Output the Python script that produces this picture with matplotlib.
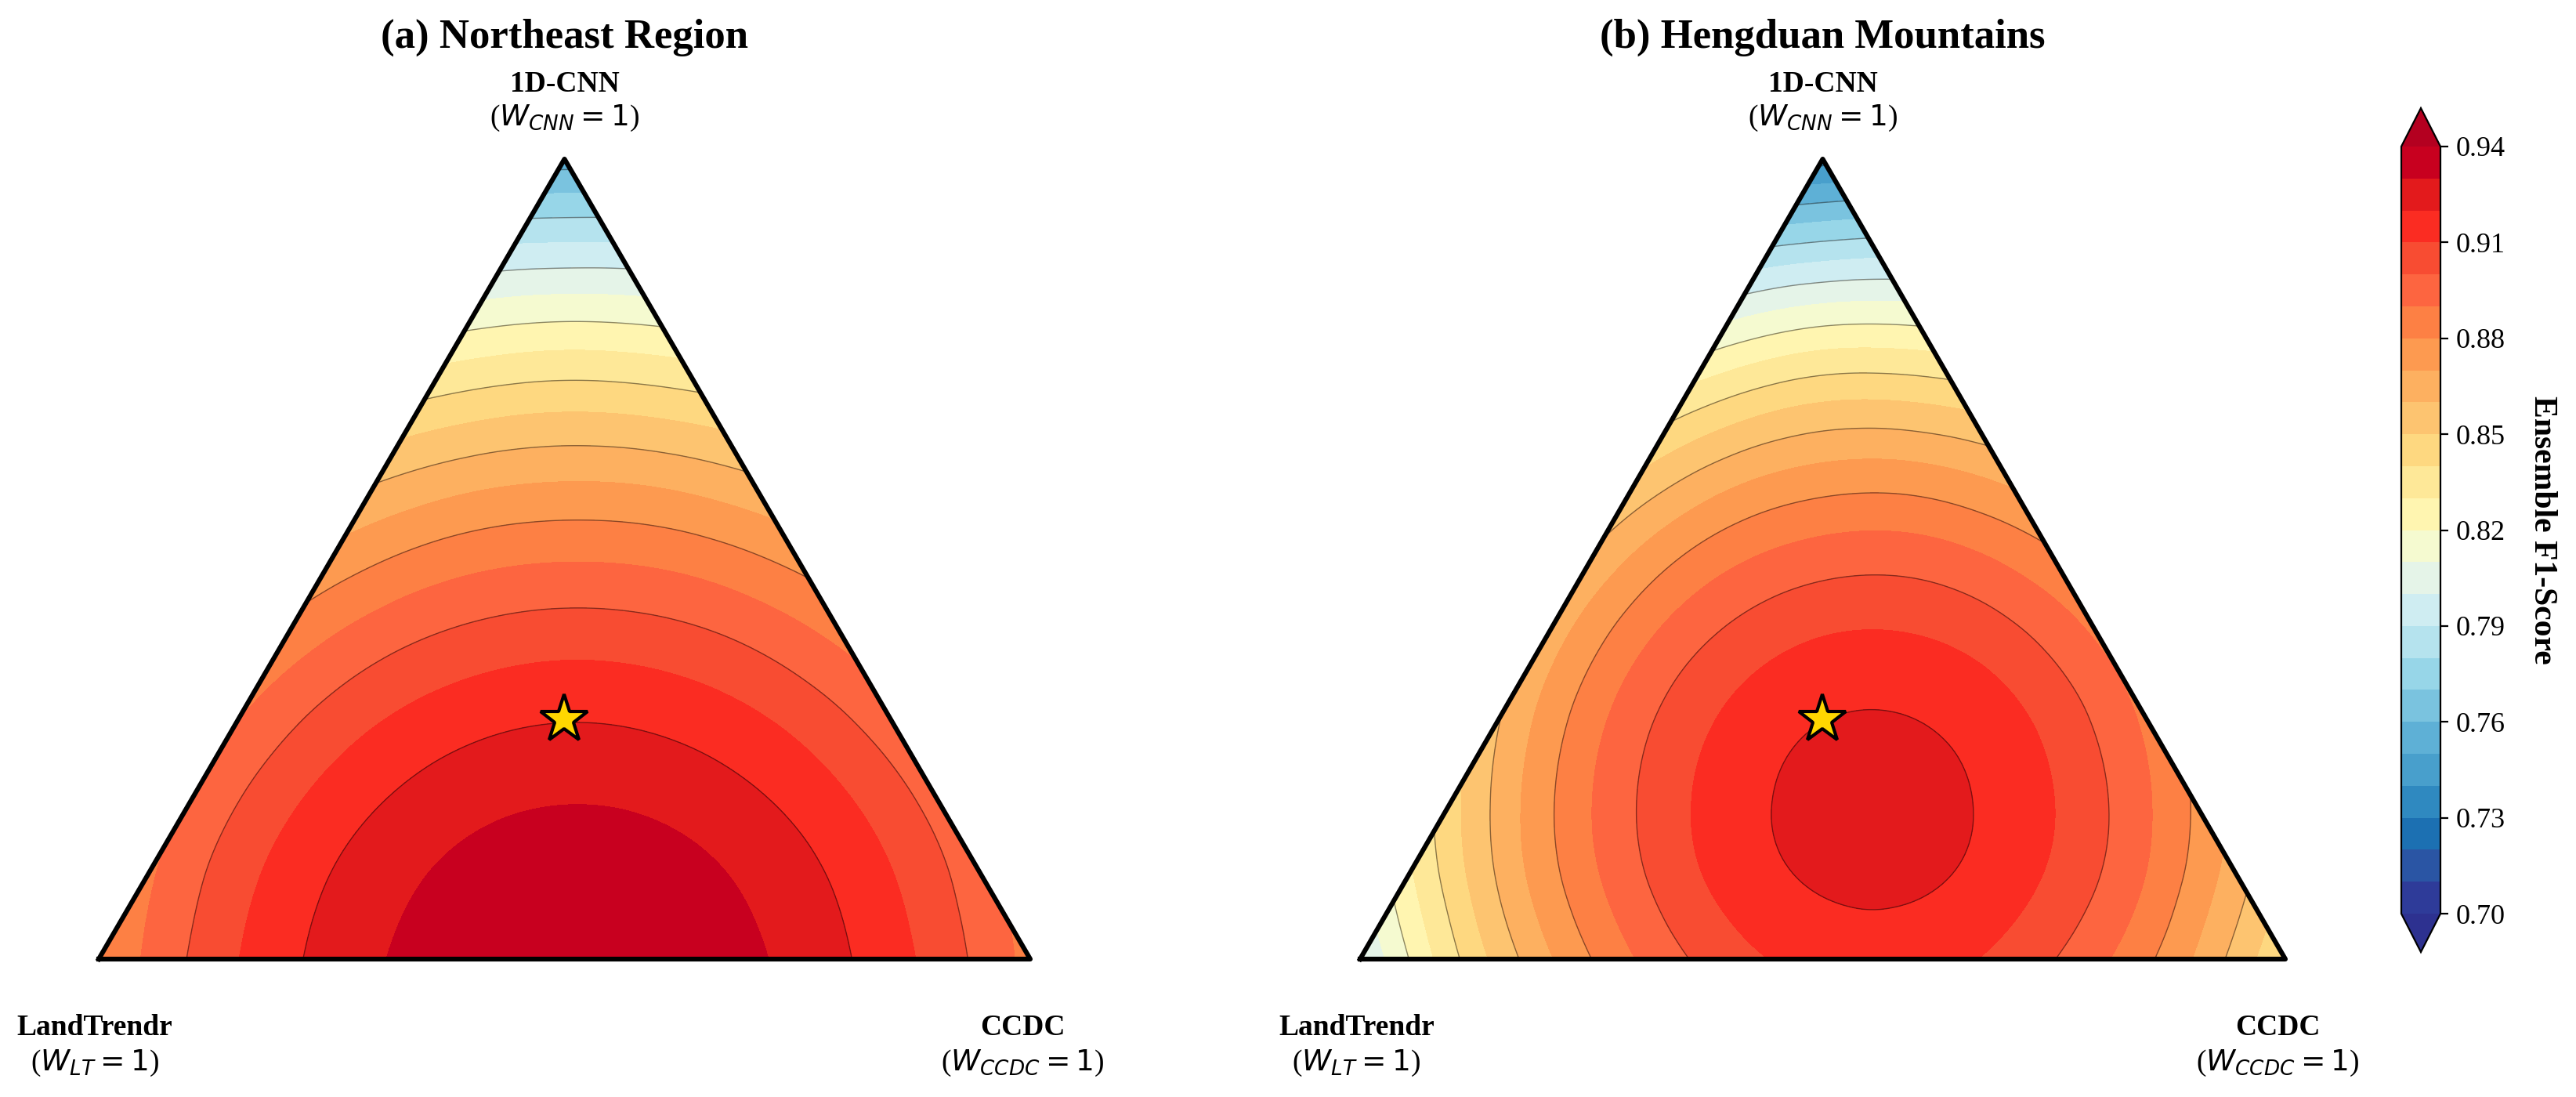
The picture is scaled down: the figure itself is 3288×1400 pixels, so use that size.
import matplotlib
matplotlib.use('Agg')
import matplotlib.pyplot as plt
import matplotlib.tri as mtri
from matplotlib.colors import ListedColormap, Normalize
import numpy as np

plt.rcParams['font.family'] = ['Liberation Serif', 'DejaVu Serif']
plt.rcParams['mathtext.fontset'] = 'dejavusans'

# ternary grid, step 0.1. row i has W_CNN = w_steps[i], W_CCDC = w_steps[0..10-i],
# W_LT = 1 - W_CNN - W_CCDC
w_steps = [0.0, 0.1, 0.2, 0.3, 0.4, 0.5, 0.6, 0.7, 0.8, 0.9, 1.0]

# ensemble F1 at the grid nodes (one row per W_CNN value)
f1_northeast = [
    [0.8803, 0.9011, 0.9174, 0.9292, 0.9365, 0.9394, 0.9378, 0.9317, 0.9211, 0.9061, 0.8866],
    [0.8880, 0.9065, 0.9205, 0.9301, 0.9352, 0.9358, 0.9320, 0.9237, 0.9109, 0.8936],
    [0.8911, 0.9074, 0.9192, 0.9266, 0.9294, 0.9278, 0.9217, 0.9112, 0.8962],
    [0.8898, 0.9039, 0.9135, 0.9186, 0.9192, 0.9153, 0.9070, 0.8942],
    [0.8841, 0.8959, 0.9032, 0.9061, 0.9045, 0.8984, 0.8878],
    [0.8738, 0.8834, 0.8885, 0.8891, 0.8853, 0.8770],
    [0.8591, 0.8664, 0.8693, 0.8677, 0.8616],
    [0.8399, 0.8450, 0.8456, 0.8418],
    [0.8162, 0.8191, 0.8175],
    [0.7881, 0.7887],
    [0.7555],
]
f1_hengduan = [
    [0.7994, 0.8373, 0.8677, 0.8905, 0.9059, 0.9137, 0.9140, 0.9068, 0.8920, 0.8698, 0.8400],
    [0.8269, 0.8611, 0.8877, 0.9068, 0.9184, 0.9224, 0.9190, 0.9080, 0.8895, 0.8635],
    [0.8469, 0.8773, 0.9002, 0.9155, 0.9233, 0.9236, 0.9164, 0.9017, 0.8794],
    [0.8595, 0.8861, 0.9052, 0.9168, 0.9208, 0.9174, 0.9064, 0.8879],
    [0.8644, 0.8873, 0.9026, 0.9104, 0.9107, 0.9035, 0.8888],
    [0.8619, 0.8810, 0.8925, 0.8966, 0.8931, 0.8822],
    [0.8518, 0.8671, 0.8749, 0.8752, 0.8680],
    [0.8342, 0.8458, 0.8498, 0.8464],
    [0.8091, 0.8169, 0.8172],
    [0.7765, 0.7805],
    [0.7363],
]

# star: chosen weights (LT, CCDC, CNN)
best_lt, best_ccdc, best_cnn = 0.35, 0.35, 0.30

titles = ['(a) Northeast Region', '(b) Hengduan Mountains']
cbar_ticks = [0.70, 0.73, 0.76, 0.79, 0.82, 0.85, 0.88, 0.91, 0.94]
levels = np.round(np.arange(0.70, 0.9401, 0.01), 2)

band_colors = ['#2e3b99', '#2a55a4', '#1c70b2', '#2f89c0', '#489fcc', '#5eb0d6',
               '#7ac3df', '#97d6e8', '#b5e3ee', '#cfedf2', '#e5f4e8', '#f5fad0',
               '#fff5b0', '#fee898', '#fed880', '#fdc470', '#fdb060', '#fd9a50',
               '#fd8044', '#fd6540', '#f84c32', '#fb2c22', '#e31a1c', '#c8001f']
cmap = ListedColormap(band_colors)
cmap.set_under('#2d3190')
cmap.set_over('#b40020')
norm = Normalize(vmin=0.70, vmax=0.94)

H = np.sqrt(3) / 2
fig = plt.figure(figsize=(16.44, 7), dpi=200)

lefts = [0.03832, 0.52798]
widths = [0.36162, 0.35918]

for k, f1 in enumerate([f1_northeast, f1_hengduan]):
    ax = fig.add_axes([lefts[k], 0.12571, widths[k], 0.72929])
    ax.set_xlim(0, 1)
    ax.set_ylim(0, H)
    ax.axis('off')

    xs, ys, zs = [], [], []
    for i, row in enumerate(f1):
        for j, val in enumerate(row):
            xs.append(w_steps[j] + 0.5 * w_steps[i])
            ys.append(H * w_steps[i])
            zs.append(val)
    z = np.array(zs)
    tri = mtri.Triangulation(np.array(xs), np.array(ys))
    interp = mtri.CubicTriInterpolator(tri, z, kind='min_E')
    tri_f, z_f = mtri.UniformTriRefiner(tri).refine_field(z, triinterpolator=interp, subdiv=4)

    cf = ax.tricontourf(tri_f, z_f, levels=levels, cmap=cmap, norm=norm, extend='both')
    ax.tricontour(tri_f, z_f, levels=levels[::2], colors='k', linewidths=0.5, alpha=0.45)

    # triangle outline
    ax.plot([0, 1, 0.5, 0], [0, 0, H, 0], color='black', lw=2.2, clip_on=False, zorder=5)

    ax.plot(best_ccdc + 0.5 * best_cnn, H * best_cnn, marker='*', ms=23,
            mfc='gold', mec='black', mew=1.5, zorder=10, clip_on=False)

    ax.text(0.5, 1.152, titles[k], transform=ax.transAxes, ha='center', va='center',
            fontsize=19, fontweight='bold')
    ax.text(0.5, 1.094, '1D-CNN', transform=ax.transAxes, ha='center', va='center',
            fontsize=13.5, fontweight='bold')
    ax.text(0.5, 1.051, r'($W_{CNN}=1$)', transform=ax.transAxes, ha='center', va='center',
            fontsize=13.5)
    ax.text(-0.004, -0.086, 'LandTrendr', transform=ax.transAxes, ha='center', va='center',
            fontsize=13.5, fontweight='bold')
    ax.text(-0.004, -0.130, r'($W_{LT}=1$)', transform=ax.transAxes, ha='center', va='center',
            fontsize=13.5)
    ax.text(0.992, -0.086, 'CCDC', transform=ax.transAxes, ha='center', va='center',
            fontsize=13.5, fontweight='bold')
    ax.text(0.992, -0.130, r'($W_{CCDC}=1$)', transform=ax.transAxes, ha='center', va='center',
            fontsize=13.5)

cax = fig.add_axes([0.93218, 0.13214, 0.0152, 0.76929])
cb = fig.colorbar(cf, cax=cax, ticks=cbar_ticks, extend='both')
cb.ax.yaxis.set_major_formatter('{x:.2f}')
cb.ax.tick_params(labelsize=13)
cb.set_label('Ensemble F1-Score', rotation=270, fontsize=15, fontweight='bold', labelpad=24)

fig.savefig('out.png', dpi=200)
